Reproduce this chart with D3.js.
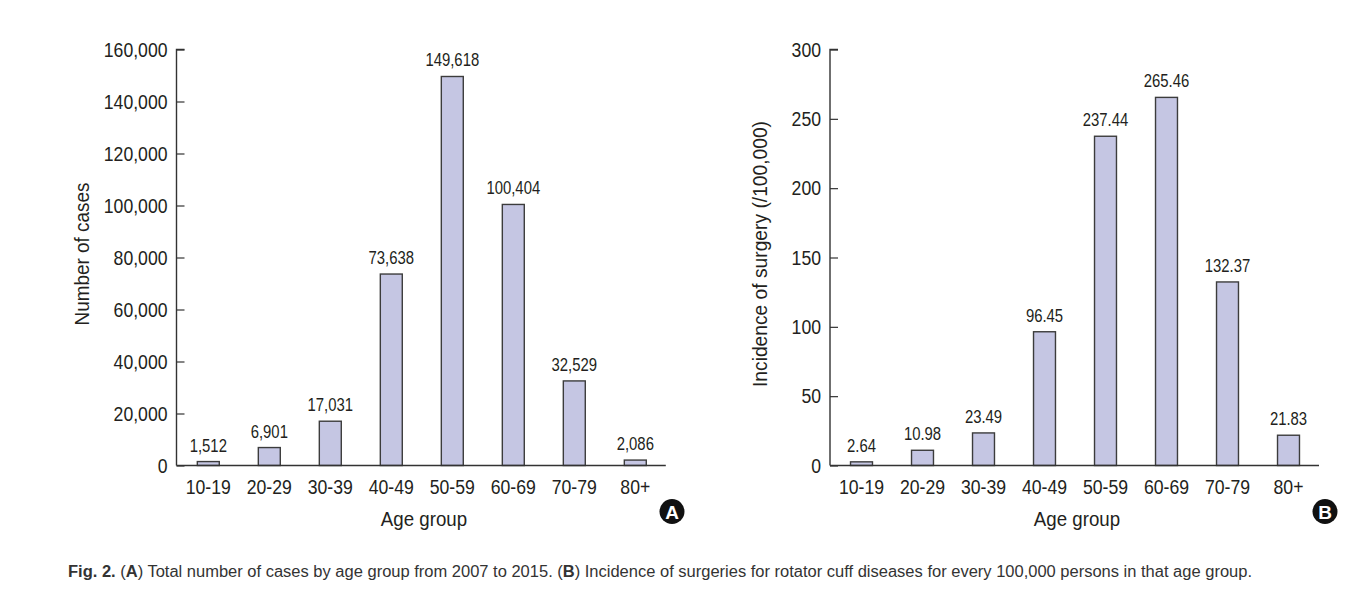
<!DOCTYPE html>
<html><head><meta charset="utf-8">
<script src="https://cdn.jsdelivr.net/npm/d3@7"></script>
<style>
body{margin:0;background:#fff;}
text{font-family:"Liberation Sans",Arial,sans-serif;fill:#231f20;}
</style></head>
<body><svg id="c" width="1365" height="598"></svg>
<script>
const categories = ["10-19","20-29","30-39","40-49","50-59","60-69","70-79","80+"];
const casesValues = [1512, 6901, 17031, 73638, 149618, 100404, 32529, 2086];
const incidenceValues = [2.64, 10.98, 23.49, 96.45, 237.44, 265.46, 132.37, 21.83];
const casesTicks = [0,20000,40000,60000,80000,100000,120000,140000,160000];
const incidenceTicks = [0,50,100,150,200,250,300];

const svg = d3.select("#c");
const fillC = "#c5c6e3", strokeC = "#3c3c3c";
const FF = '"Liberation Sans",Arial,sans-serif';

function condense(sel, f){
  sel.each(function(){
    const w = this.getComputedTextLength();
    d3.select(this).attr("textLength", w*f).attr("lengthAdjust","spacingAndGlyphs");
  });
}

function panel(opts){
  const g = svg.append("g");
  const x = d3.scaleBand().domain(categories).range([opts.x0, opts.x1]).paddingInner(0.64).paddingOuter(0.32);
  const y = d3.scaleLinear().domain(opts.domain).range([465.5, 49.5]);
  g.selectAll("rect.bar").data(opts.values).enter().append("rect")
    .attr("x",(d,i)=>x(categories[i])).attr("width",x.bandwidth())
    .attr("y",d=>y(d)).attr("height",d=>y(0)-y(d))
    .attr("fill",fillC).attr("stroke",strokeC).attr("stroke-width",1.4);
  const vals = g.selectAll("text.val").data(opts.values).enter().append("text")
    .attr("x",(d,i)=>x(categories[i])+x.bandwidth()/2).attr("y",d=>y(d)-10)
    .attr("text-anchor","middle").attr("font-size",17.5).text(opts.fmt);
  condense(vals, 0.85);
  const ya = g.append("g").attr("transform",`translate(${opts.axisX},0)`)
    .call(d3.axisRight(y).tickValues(opts.ticks).tickSize(8).tickFormat(opts.tickFmt));
  ya.select(".domain").attr("d",`M8,${y(opts.domain[1])}H0V${y(0)}`).attr("stroke","#333").attr("stroke-width",1.4);
  ya.selectAll(".tick line").attr("stroke","#333").attr("stroke-width",1.2);
  const yt = ya.selectAll(".tick text").attr("x",-9).attr("text-anchor","end").attr("font-size",20.5)
    .style("font-family",FF).attr("fill","#231f20");
  condense(yt, 0.86);
  const xa = g.append("g").attr("transform",`translate(0,${y(0)})`)
    .call(d3.axisBottom(x).tickSize(0).tickPadding(10));
  xa.select(".domain").attr("d",`M${opts.axisX},0H${opts.x1}`).attr("stroke","#333").attr("stroke-width",1.6);
  const xt = xa.selectAll(".tick text").attr("font-size",20.5).attr("dy","0.88em")
    .style("font-family",FF).attr("fill","#231f20");
  condense(xt, 0.86);
  const t1 = g.append("text").attr("x",opts.titleCx).attr("y",526).attr("text-anchor","middle").attr("font-size",21).text("Age group");
  condense(t1, 0.89);
  const t2 = g.append("text").attr("transform",`translate(${opts.yTitleX},${opts.yTitleCy}) rotate(-90)`)
    .attr("text-anchor","middle").attr("font-size",21).text(opts.yTitle);
  condense(t2, opts.yTitleF);
  g.append("circle").attr("cx",opts.badgeX).attr("cy",511.5).attr("r",12.5).attr("fill","#111");
  g.append("text").attr("x",opts.badgeX).attr("y",518.5).attr("text-anchor","middle")
    .attr("font-size",19).attr("font-weight","bold").style("fill","#fff").text(opts.badge);
}

panel({x0:177.8,x1:665.8,axisX:176.5,domain:[0,160000],values:casesValues,ticks:casesTicks,
  fmt:d3.format(","),tickFmt:d3.format(","),titleCx:424,yTitleX:89,yTitleCy:254,yTitleF:0.9,
  yTitle:"Number of cases",badgeX:672,badge:"A"});
panel({x0:831,x1:1319,axisX:830,domain:[0,300],values:incidenceValues,ticks:incidenceTicks,
  fmt:d3.format(".2f"),tickFmt:d3.format("d"),titleCx:1077,yTitleX:767,yTitleCy:254,yTitleF:0.915,
  yTitle:"Incidence of surgery (/100,000)",badgeX:1325,badge:"B"});

const cap = svg.append("text").attr("x",68).attr("y",577).attr("font-size",16).style("fill","#333");
cap.append("tspan").attr("font-weight","bold").text("Fig. 2. ");
cap.append("tspan").text("(");
cap.append("tspan").attr("font-weight","bold").text("A");
cap.append("tspan").text(") Total number of cases by age group from 2007 to 2015. (");
cap.append("tspan").attr("font-weight","bold").text("B");
cap.append("tspan").text(") Incidence of surgeries for rotator cuff diseases for every 100,000 persons in that age group.");
cap.attr("textLength",1184).attr("lengthAdjust","spacingAndGlyphs");
</script></body></html>
